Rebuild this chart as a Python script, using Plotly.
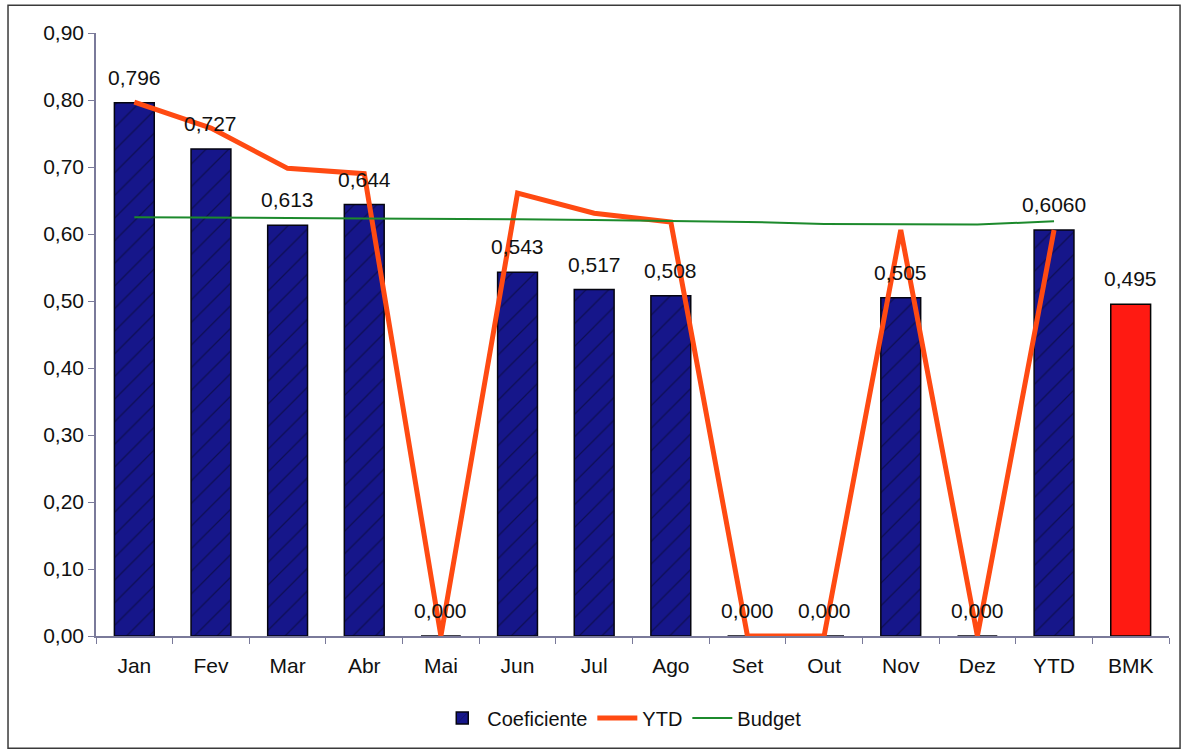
import plotly.graph_objects as go

# Monthly coefficient chart: bars per month plus YTD and budget lines
categories = ["Jan", "Fev", "Mar", "Abr", "Mai", "Jun", "Jul", "Ago",
              "Set", "Out", "Nov", "Dez", "YTD", "BMK"]
coeficiente = [0.796, 0.727, 0.613, 0.644, 0.000, 0.543, 0.517, 0.508,
               0.000, 0.000, 0.505, 0.000, 0.6060, None]
bmk = [None] * 13 + [0.495]
ytd = [0.797, 0.758, 0.698, 0.690, 0.000, 0.661, 0.631, 0.618,
       0.000, 0.000, 0.606, 0.000, 0.606, None]
budget = [0.625, 0.625, 0.624, 0.623, 0.623, 0.622, 0.621, 0.620,
          0.618, 0.615, 0.614, 0.614, 0.619, None]
coef_labels = ["0,796", "0,727", "0,613", "0,644", "0,000", "0,543", "0,517",
               "0,508", "0,000", "0,000", "0,505", "0,000", "0,6060", ""]
bmk_labels = [""] * 13 + ["0,495"]
y_ticks = [0.0, 0.1, 0.2, 0.3, 0.4, 0.5, 0.6, 0.7, 0.8, 0.9]
y_tick_text = ["0,00", "0,10", "0,20", "0,30", "0,40", "0,50", "0,60",
               "0,70", "0,80", "0,90"]

FONT = "Liberation Sans, Arial, sans-serif"
LABEL_SIZE = 21

fig = go.Figure()

fig.add_trace(go.Bar(
    x=categories, y=coeficiente, name="Coeficiente",
    marker=dict(color="#16168a", line=dict(color="#050510", width=1.5),
                pattern=dict(shape="/", fgcolor="#05051e", size=16, solidity=0.08)),
    width=0.52,
))

fig.add_trace(go.Bar(
    x=categories, y=bmk, name="BMK", showlegend=False,
    marker=dict(color="#ff1a12", line=dict(color="#050505", width=1.5)),
    width=0.52,
))

fig.add_trace(go.Scatter(
    x=categories, y=ytd, name="YTD", mode="lines",
    line=dict(color="#ff4a12", width=5),
))

fig.add_trace(go.Scatter(
    x=categories, y=budget, name="Budget", mode="lines",
    line=dict(color="#1c8a2c", width=2),
))

# value labels above each bar
annotations = []
for cat, val, lab in zip(categories, coeficiente, coef_labels):
    if val is not None and lab:
        annotations.append(dict(x=cat, y=val, text=lab, showarrow=False,
                                yanchor="bottom", yshift=12,
                                font=dict(size=LABEL_SIZE, color="#111111")))
for cat, val, lab in zip(categories, bmk, bmk_labels):
    if val is not None and lab:
        annotations.append(dict(x=cat, y=val, text=lab, showarrow=False,
                                yanchor="bottom", yshift=12,
                                font=dict(size=LABEL_SIZE, color="#111111")))

fig.update_layout(
    width=1191, height=756,
    barmode="overlay",
    paper_bgcolor="white", plot_bgcolor="white",
    margin=dict(l=96, r=22, t=33, b=120),
    font=dict(family=FONT, size=21, color="#111111"),
    separators=",.",
    annotations=annotations,
    legend=dict(orientation="h", x=0.49, y=-0.136, xanchor="center",
                yanchor="middle", font=dict(size=20), itemwidth=40,
                traceorder="normal"),
    xaxis=dict(showline=True, linecolor="#7a7a9a", linewidth=1.5,
               ticks="outside", tickson="boundaries", ticklen=6,
               tickcolor="#7a7a9a", showgrid=False, ticklabelstandoff=10,
               tickfont=dict(size=21)),
    yaxis=dict(range=[0, 0.9], tickvals=y_ticks, ticktext=y_tick_text,
               showline=True, linecolor="#7a7a9a", linewidth=1.5,
               ticks="outside", ticklen=6, tickcolor="#7a7a9a",
               showgrid=False, zeroline=False, tickfont=dict(size=21)),
    shapes=[dict(type="rect", xref="paper", yref="paper",
                 x0=-0.082, x1=1.0103, y0=-0.186, y1=1.046,
                 line=dict(color="#3a3a3a", width=1.5))],
)

fig.write_html("out.html")
